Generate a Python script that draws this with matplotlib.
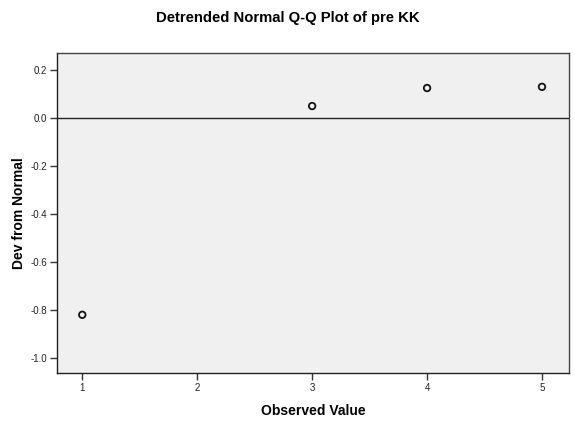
import numpy as np
import matplotlib.pyplot as plt

plt.rcParams['font.family'] = ['Liberation Sans', 'DejaVu Sans']

observed = [1, 3, 4, 5]
dev = [-0.82, 0.05, 0.125, 0.13]
xticks = [1, 2, 3, 4, 5]
yticks = [0.2, 0.0, -0.2, -0.4, -0.6, -0.8, -1.0]

fig = plt.figure(figsize=(5.75, 4.21), dpi=100)
ax = fig.add_axes([57 / 575, 1 - 373 / 421, 512 / 575, 320 / 421])
ax.set_facecolor('#f0f0f0')

ax.axhline(0.0, color='#222222', lw=1.0, zorder=1)
ax.scatter(observed, dev, s=22, facecolors='none', edgecolors='#111111',
           linewidths=1.3, zorder=3)

ax.set_xlim(0.78, 5.235)
ax.set_ylim(-1.0625, 0.271)
ax.set_xticks(xticks)
ax.set_xticklabels([str(v) for v in xticks])
ax.set_yticks(yticks)
ax.set_yticklabels(['%.1f' % v for v in yticks])
ax.tick_params(direction='out', length=5, width=1, labelsize=7, color='#333333',
               labelcolor='#222222', pad=2)

for s in ax.spines.values():
    s.set_color('#444444')
    s.set_linewidth(1)
ax.spines['left'].set_color('#222222')
ax.spines['bottom'].set_color('#222222')

ax.set_xlabel('Observed Value', fontsize=10, fontweight='bold', labelpad=8)
ax.set_ylabel('Dev from Normal', fontsize=10, fontweight='bold', labelpad=3)
fig.text(0.5, 1 - 18 / 421, 'Detrended Normal Q-Q Plot of pre KK',
         ha='center', va='center', fontsize=10.7, fontweight='bold')

fig.savefig('out.png', dpi=100, facecolor='white')
